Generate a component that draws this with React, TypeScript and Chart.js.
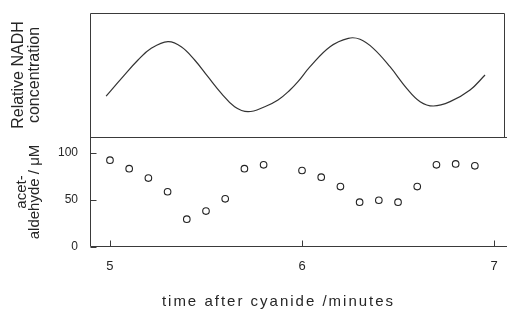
import React, { useEffect, useRef } from "react";
import { Chart, registerables } from "chart.js";

Chart.register(...registerables);

// NADH trace (relative units, 0..100 across the upper panel)
const nadhTime = [4.98, 5.06, 5.146, 5.215, 5.302, 5.371, 5.441, 5.51, 5.58, 5.649, 5.719, 5.806, 5.875, 5.9375, 5.979, 6.042, 6.146, 6.241, 6.302, 6.371, 6.458, 6.545, 6.615, 6.684, 6.771, 6.875, 6.953];
const nadhLevel = [33, 47.3, 62.1, 71.5, 76.9, 72.8, 62.1, 48.6, 35.2, 24.4, 20.4, 24.4, 29.8, 37.9, 44.6, 56.7, 72.8, 79.6, 78.8, 71.5, 56.7, 39.3, 28.5, 25, 28.5, 37.9, 50];

// Acetaldehyde samples (µM)
const acetTime = [5.0, 5.1, 5.2, 5.3, 5.4, 5.5, 5.6, 5.7, 5.8, 6.0, 6.1, 6.2, 6.3, 6.4, 6.5, 6.6, 6.7, 6.8, 6.9];
const acetValue = [92, 83, 73, 58.5, 29.5, 38, 51, 83, 87, 81, 74, 64, 47.5, 49.5, 47.5, 64, 87, 88, 86];

const xTicks = [5, 6, 7];
const acetTicks = [0, 50, 100];
const xTitle = "time after cyanide /minutes";
const nadhTitle = ["Relative NADH", "concentration"];
const acetTitle = ["acet-", "aldehyde / \u03bcM"];

const FONT = '"Liberation Sans", Arial, Helvetica, sans-serif';
const INK = "#262626";

const framePlugin = {
  id: "frame",
  afterDraw(chart: any) {
    const { ctx, chartArea } = chart;
    const x = chart.scales.x;
    const yN = chart.scales.yN;
    const yA = chart.scales.yA;
    const L = Math.round(chartArea.left) + 0.5;
    const R = Math.round(chartArea.right) - 0.5;
    const T = Math.round(yN.top) + 0.5;
    const M = Math.round(yN.bottom) + 0.5;
    const B = Math.round(yA.bottom) - 0.5;
    ctx.save();
    ctx.strokeStyle = "#3a3a3a";
    ctx.lineWidth = 1;
    ctx.beginPath();
    // upper panel box
    ctx.moveTo(L, T);
    ctx.lineTo(R, T);
    ctx.lineTo(R, M);
    ctx.moveTo(L, T);
    ctx.lineTo(L, B);
    // shared divider and bottom axis
    ctx.moveTo(L, M);
    ctx.lineTo(chart.width, M);
    ctx.moveTo(L, B);
    ctx.lineTo(chart.width, B);
    // inward ticks
    for (const v of xTicks) {
      const px = Math.round(x.getPixelForValue(v)) + 0.5;
      ctx.moveTo(px, B);
      ctx.lineTo(px, B - 6);
    }
    for (const v of acetTicks) {
      const py = Math.round(yA.getPixelForValue(v)) + 0.5;
      ctx.moveTo(L, py);
      ctx.lineTo(L + 6, py);
    }
    ctx.stroke();

    // x-axis title
    ctx.font = "15px " + FONT;
    (ctx as any).letterSpacing = "2px";
    ctx.fillStyle = INK;
    ctx.textAlign = "center";
    ctx.textBaseline = "alphabetic";
    ctx.fillText(xTitle, (chartArea.left + chartArea.right) / 2 - 19, chartArea.bottom + 59);
    ctx.restore();
  },
};

const noPad = (s: any) => {
  s.paddingTop = 0;
  s.paddingBottom = 0;
  s.paddingLeft = 0;
  s.paddingRight = 0;
};

export default function App() {
  const ref = useRef<HTMLCanvasElement | null>(null);

  useEffect(() => {
    document.body.style.margin = "0";
    const canvas = ref.current;
    if (!canvas) return;
    const chart = new Chart(canvas, {
      type: "scatter",
      data: {
        datasets: [
          {
            label: "NADH",
            data: nadhTime.map((t, i) => ({ x: t, y: nadhLevel[i] })),
            showLine: true,
            tension: 0.4,
            pointRadius: 0,
            borderColor: "#333",
            borderWidth: 1.2,
            xAxisID: "x",
            yAxisID: "yN",
          },
          {
            label: "acetaldehyde",
            data: acetTime.map((t, i) => ({ x: t, y: acetValue[i] })),
            showLine: false,
            pointRadius: 3.3,
            pointBorderWidth: 1.1,
            borderColor: "#222",
            backgroundColor: "rgba(255,255,255,0)",
            xAxisID: "x",
            yAxisID: "yA",
          },
        ],
      },
      options: {
        animation: false,
        responsive: false,
        maintainAspectRatio: false,
        devicePixelRatio: 1,
        layout: { autoPadding: false, padding: { top: 13, right: 2, left: 0, bottom: 0 } },
        plugins: { legend: { display: false }, tooltip: { enabled: false } },
        scales: {
          x: {
            type: "linear",
            position: "bottom",
            min: 4.896,
            max: 7.057,
            afterBuildTicks: (s: any) => {
              s.ticks = xTicks.map((v) => ({ value: v }));
            },
            afterFit: (s: any) => {
              s.height = 67;
              noPad(s);
            },
            grid: { display: false, drawTicks: false },
            border: { display: false },
            ticks: {
              padding: 12,
              color: INK,
              font: { size: 13, family: FONT },
              callback: (v: any) => String(v),
            },
          },
          yA: {
            type: "linear",
            position: "left",
            stack: "panels",
            stackWeight: 110,
            min: 0,
            max: 116.5,
            afterBuildTicks: (s: any) => {
              s.ticks = acetTicks.map((v) => ({ value: v }));
            },
            afterFit: (s: any) => {
              s.width = 90;
              noPad(s);
            },
            grid: { display: false, drawTicks: false },
            border: { display: false },
            ticks: {
              padding: 12,
              color: INK,
              font: { size: 12, family: FONT },
            },
            title: {
              display: true,
              text: acetTitle,
              color: INK,
              font: { size: 15, family: FONT, lineHeight: 0.87 },
              padding: { top: 15, bottom: 0 },
            },
          },
          yN: {
            type: "linear",
            position: "left",
            stack: "panels",
            stackWeight: 124,
            min: 0,
            max: 100,
            afterFit: (s: any) => {
              s.width = 90;
              noPad(s);
            },
            grid: { display: false, drawTicks: false },
            border: { display: false },
            ticks: { display: false },
            title: {
              display: true,
              text: nadhTitle,
              color: INK,
              font: { size: 16, family: FONT, lineHeight: 1 },
              padding: { top: 11, bottom: 0 },
            },
          },
        },
      } as any,
      plugins: [framePlugin],
    });
    return () => chart.destroy();
  }, []);

  return (
    <div style={{ position: "absolute", left: 0, top: 0, width: 507, height: 314, background: "#fff" }}>
      <canvas ref={ref} width={507} height={314} />
    </div>
  );
}
